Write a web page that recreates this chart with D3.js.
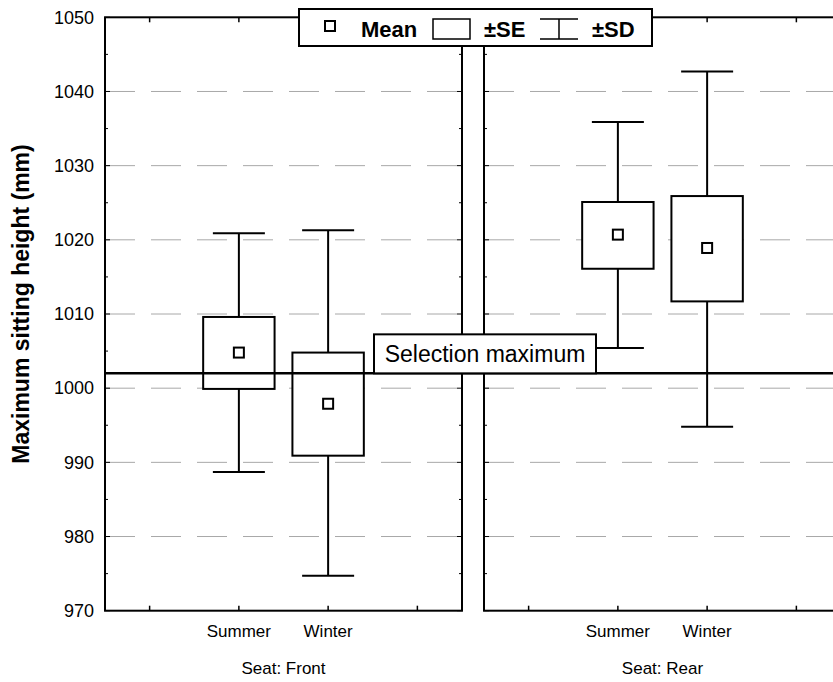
<!DOCTYPE html>
<html>
<head>
<meta charset="utf-8">
<script src="https://cdn.jsdelivr.net/npm/d3@7"></script>
<style>
  body { margin: 0; background: #fff; }
  svg { display: block; font-family: "Liberation Sans", Arial, sans-serif; }
</style>
</head>
<body>
<svg id="chart"></svg>
<script>
const width = 833;
const height = 682;

// data
const seats = ["Front", "Rear"];
const seasons = ["Summer", "Winter"];
const means  = [[1004.8, 997.9], [1020.7, 1018.9]];
const seLow  = [[999.9, 990.9], [1016.1, 1011.7]];
const seHigh = [[1009.6, 1004.8], [1025.1, 1025.9]];
const sdLow  = [[988.7, 974.7], [1005.4, 994.8]];
const sdHigh = [[1020.9, 1021.3], [1035.9, 1042.7]];
const selectionMax = 1002.0;
const yTicks = [970, 980, 990, 1000, 1010, 1020, 1030, 1040, 1050];
const minorTicks = d3.range(970, 1051, 5);

const svg = d3.select("#chart")
  .attr("width", width)
  .attr("height", height);

const y = d3.scaleLinear()
  .domain([970, 1050])
  .range([610.7, 17.3]);

const panel = d3.scaleBand()
  .domain(seats)
  .range([105, 841])
  .paddingInner(22 / 379);

// 4 slots per panel, the middle two hold the seasons
const slot = d3.scalePoint()
  .domain([0, 1, 2, 3])
  .range([0, panel.bandwidth()])
  .padding(0.5);

const boxW = slot.step() * 0.8;
const capW = 52;

// gridlines + frames
seats.forEach((seat, si) => {
  const x0 = panel(seat);
  const x1 = x0 + panel.bandwidth();
  const g = svg.append("g");

  g.selectAll("line.grid")
    .data(yTicks.filter(t => t > 970 && t < 1050))
    .join("line")
    .attr("x1", x0).attr("x2", x1)
    .attr("y1", d => y(d)).attr("y2", d => y(d))
    .attr("stroke", "#a8a8a8")
    .attr("stroke-width", 1)
    .attr("stroke-dasharray", "30,16");

  // inward ticks on the vertical edges
  [x0, x1].forEach((ex, k) => {
    const dir = k === 0 ? 1 : -1;
    g.selectAll(null)
      .data(minorTicks)
      .join("line")
      .attr("x1", ex).attr("x2", d => ex + dir * (d % 10 === 0 ? 5 : 3))
      .attr("y1", d => y(d)).attr("y2", d => y(d))
      .attr("stroke", "#000")
      .attr("stroke-width", 1);
  });

  // inward ticks top and bottom
  g.selectAll(null)
    .data(slot.domain())
    .join("line")
    .attr("x1", d => x0 + slot(d)).attr("x2", d => x0 + slot(d))
    .attr("y1", y(970)).attr("y2", y(970) - 5)
    .attr("stroke", "#000").attr("stroke-width", 1.5);
  g.selectAll(null)
    .data(slot.domain())
    .join("line")
    .attr("x1", d => x0 + slot(d)).attr("x2", d => x0 + slot(d))
    .attr("y1", y(1050)).attr("y2", y(1050) + 5)
    .attr("stroke", "#000").attr("stroke-width", 1.5);

  g.append("rect")
    .attr("x", x0).attr("y", y(1050))
    .attr("width", panel.bandwidth())
    .attr("height", y(970) - y(1050))
    .attr("fill", "none")
    .attr("stroke", "#000")
    .attr("stroke-width", 2);

  // category labels
  g.selectAll("text.cat")
    .data(seasons)
    .join("text")
    .attr("x", (d, i) => x0 + slot(i + 1))
    .attr("y", 637)
    .attr("text-anchor", "middle")
    .attr("font-size", 17)
    .text(d => d);

  g.append("text")
    .attr("x", x0 + panel.bandwidth() / 2)
    .attr("y", 674)
    .attr("text-anchor", "middle")
    .attr("font-size", 17)
    .text("Seat: " + seat);

  // boxes
  seasons.forEach((season, j) => {
    const cx = x0 + slot(j + 1);
    g.append("line")
      .attr("x1", cx).attr("x2", cx)
      .attr("y1", y(sdHigh[si][j])).attr("y2", y(sdLow[si][j]))
      .attr("stroke", "#000").attr("stroke-width", 2);
    [sdHigh[si][j], sdLow[si][j]].forEach(v => {
      g.append("line")
        .attr("x1", cx - capW / 2).attr("x2", cx + capW / 2)
        .attr("y1", y(v)).attr("y2", y(v))
        .attr("stroke", "#000").attr("stroke-width", 2);
    });
    g.append("rect")
      .attr("x", cx - boxW / 2)
      .attr("y", y(seHigh[si][j]))
      .attr("width", boxW)
      .attr("height", y(seLow[si][j]) - y(seHigh[si][j]))
      .attr("fill", "#fff")
      .attr("stroke", "#000")
      .attr("stroke-width", 2);
    g.append("rect")
      .attr("x", cx - 5).attr("y", y(means[si][j]) - 5)
      .attr("width", 10).attr("height", 10)
      .attr("fill", "#fff")
      .attr("stroke", "#000")
      .attr("stroke-width", 2);
  });
});

// y tick labels
svg.append("g")
  .selectAll("text")
  .data(yTicks)
  .join("text")
  .attr("x", 94)
  .attr("y", d => y(d))
  .attr("dy", "0.35em")
  .attr("text-anchor", "end")
  .attr("font-size", 18)
  .text(d => d);

svg.append("text")
  .attr("transform", "translate(29,304) rotate(-90)")
  .attr("text-anchor", "middle")
  .attr("font-size", 23)
  .attr("font-weight", "bold")
  .text("Maximum sitting height (mm)");

// selection maximum line + label
svg.append("line")
  .attr("x1", panel("Front")).attr("x2", width)
  .attr("y1", y(selectionMax)).attr("y2", y(selectionMax))
  .attr("stroke", "#000").attr("stroke-width", 2.5);

const labelG = svg.append("g")
  .attr("transform", `translate(374,${y(selectionMax) - 39})`);
labelG.append("rect")
  .attr("width", 222).attr("height", 39)
  .attr("fill", "#fff").attr("stroke", "#000").attr("stroke-width", 2);
labelG.append("text")
  .attr("x", 111).attr("y", 28)
  .attr("text-anchor", "middle")
  .attr("font-size", 23)
  .text("Selection maximum");

// legend
const leg = svg.append("g").attr("transform", "translate(299,9)");
leg.append("rect")
  .attr("width", 353).attr("height", 37)
  .attr("fill", "#fff").attr("stroke", "#000").attr("stroke-width", 2);
leg.append("rect")
  .attr("x", 26).attr("y", 12).attr("width", 10).attr("height", 10)
  .attr("fill", "#fff").attr("stroke", "#000").attr("stroke-width", 2);
leg.append("rect")
  .attr("x", 134).attr("y", 10).attr("width", 37).attr("height", 20)
  .attr("fill", "#fff").attr("stroke", "#000").attr("stroke-width", 1.5);
leg.append("path")
  .attr("d", "M241,10H279M260,10V30M241,30H279")
  .attr("fill", "none").attr("stroke", "#000").attr("stroke-width", 1.5);
const legText = [["Mean", 62], ["±SE", 185], ["±SD", 293]];
leg.selectAll("text")
  .data(legText)
  .join("text")
  .attr("x", d => d[1])
  .attr("y", 28)
  .attr("font-size", 22)
  .attr("font-weight", "bold")
  .text(d => d[0]);
</script>
</body>
</html>
